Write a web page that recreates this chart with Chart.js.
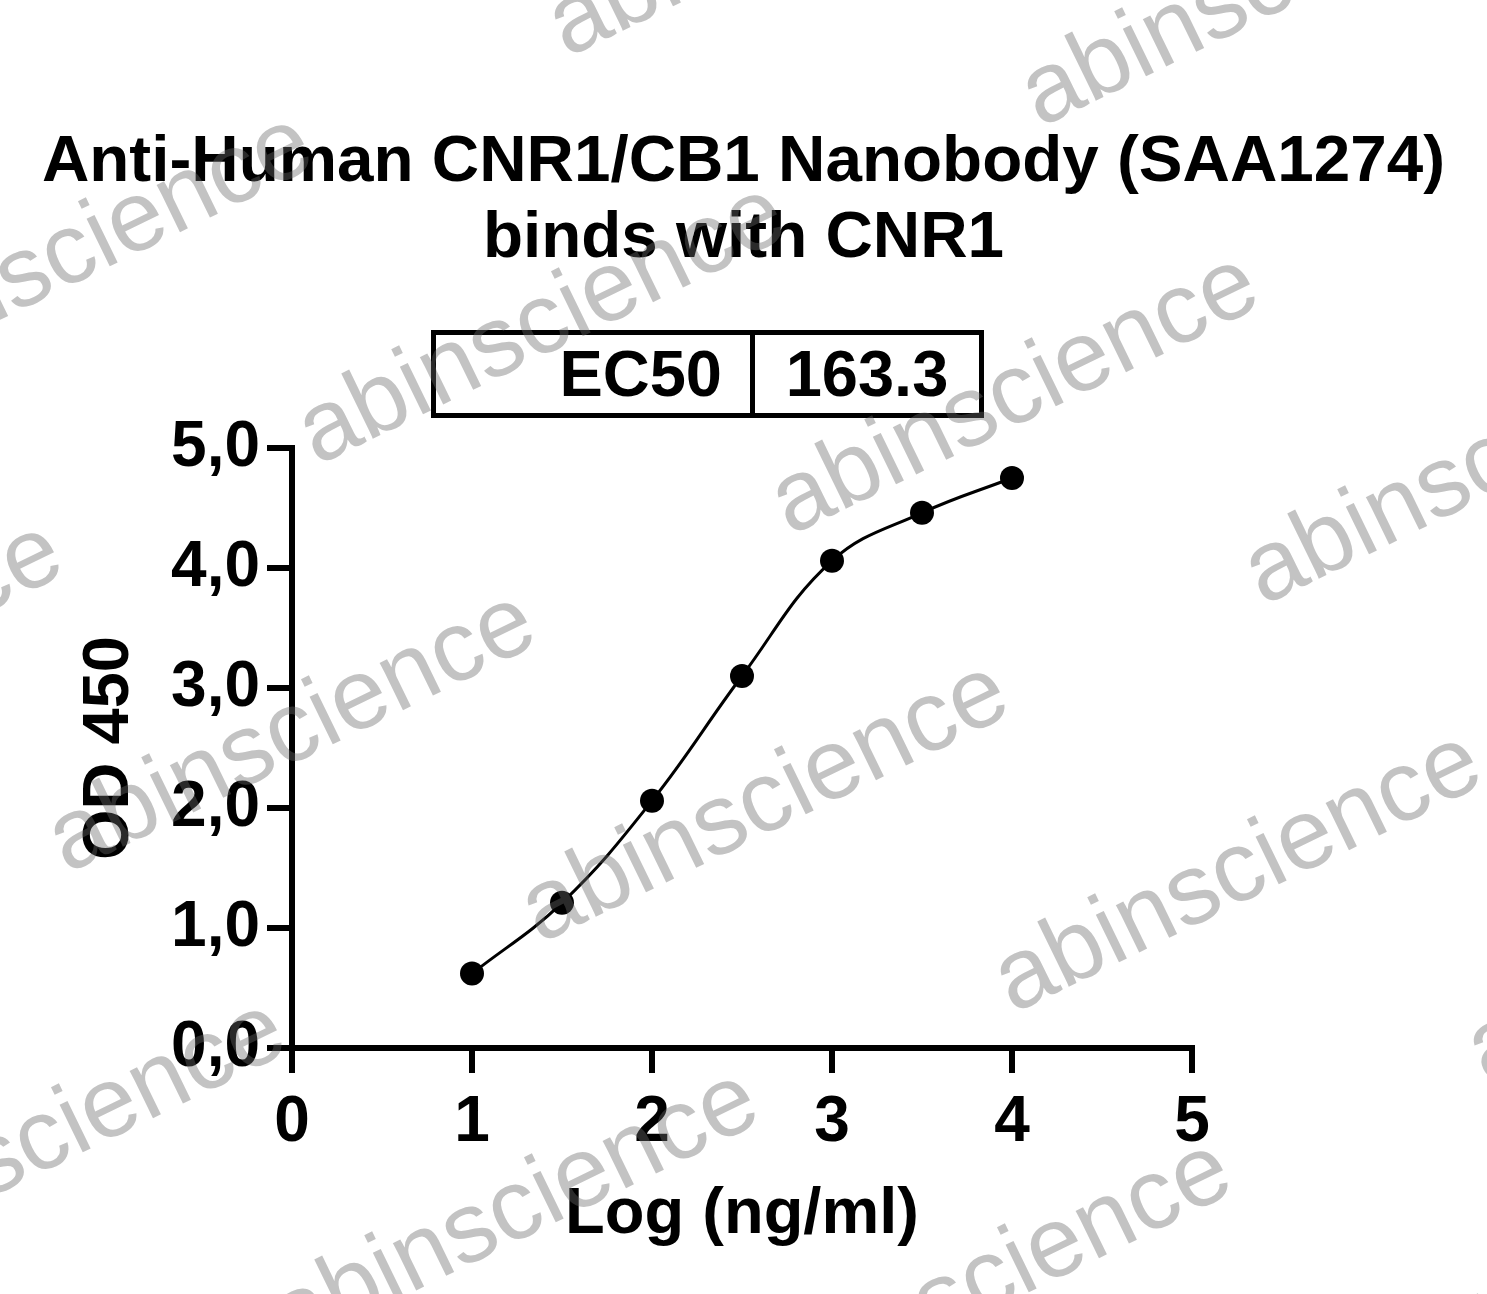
<!DOCTYPE html>
<html>
<head>
<meta charset="utf-8">
<title>Anti-Human CNR1/CB1 Nanobody (SAA1274) binds with CNR1</title>
<script src="https://cdn.jsdelivr.net/npm/chart.js@4.4.1/dist/chart.umd.min.js"></script>
<style>
    html, body { margin: 0; padding: 0; background: #fff; }
    #wrap { position: relative; width: 1487px; height: 1294px; overflow: hidden; font-family: "Liberation Sans", Arial, sans-serif; }
    .title {
        position: absolute; left: 0; top: 121px; width: 1487px;
        text-align: center; font-weight: bold; font-size: 65.6px; line-height: 76px; color: #000;
    }
    .ec50 {
        position: absolute; left: 431px; top: 330px; width: 553px; height: 88px;
        box-sizing: border-box; border: 5px solid #000; display: flex;
        font-weight: bold; font-size: 65px; line-height: 78px; color: #000;
    }
    .ec50 .lbl { width: 319px; border-right: 5px solid #000; text-align: right; padding-right: 28px; box-sizing: border-box; }
    .ec50 .val { flex: 1; text-align: center; }
    #chart { position: absolute; left: 0; top: 0; }
</style>
</head>
<body>
<div id="wrap">
    <div class="title">Anti-Human CNR1/CB1 Nanobody (SAA1274)<br>binds with CNR1</div>
    <div class="ec50"><div class="lbl">EC50</div><div class="val">163.3</div></div>
    <canvas id="chart" width="1487" height="1294"></canvas>
</div>
<script>
// Data
const logConc = [1, 1.5, 2, 2.5, 3, 3.5, 4];
const od450 = [0.62, 1.21, 2.06, 3.10, 4.06, 4.46, 4.75];
const xTickLabels = ['0', '1', '2', '3', '4', '5'];
const yTickLabels = ['0,0', '1,0', '2,0', '3,0', '4,0', '5,0'];

const points = logConc.map((x, i) => ({ x: x, y: od450[i] }));

const fontFamily = '"Liberation Sans", Arial, sans-serif';
const tickFont = { family: fontFamily, size: 64, weight: 'bold' };
const titleFont = { family: fontFamily, size: 65, weight: 'bold' };

const axisGrid = {
    display: true,
    drawOnChartArea: false,
    drawTicks: true,
    tickLength: 25,
    tickWidth: 6,
    tickColor: '#000',
    color: '#000',
    lineWidth: 6
};
const axisBorder = { display: true, color: '#000', width: 6 };

// Grey "abinscience" watermark drawn over everything
const watermark = {
    id: 'watermark',
    afterDraw(chart) {
        const ctx = chart.ctx;
        ctx.save();
        ctx.font = '100px ' + fontFamily;
        ctx.fillStyle = 'rgba(105, 105, 105, 0.4)';
        ctx.textBaseline = 'alphabetic';
        for (let j = -3; j <= 2; j++) {
            for (let i = -3; i <= 3; i++) {
                const x = 540 + i * 473 - j * 250;
                const y = 944 + i * 70 + j * 408;
                ctx.save();
                ctx.translate(x, y);
                ctx.rotate(-26 * Math.PI / 180);
                ctx.fillText('abinscience', 0, 0);
                ctx.restore();
            }
        }
        ctx.restore();
    }
};

new Chart(document.getElementById('chart'), {
    type: 'line',
    data: {
        datasets: [
            {
                data: points,
                borderColor: '#000',
                borderWidth: 3,
                tension: 0.4,
                pointRadius: 0,
                fill: false,
                order: 2
            },
            {
                data: points,
                showLine: false,
                pointRadius: 12,
                pointBackgroundColor: '#000',
                pointBorderColor: '#000',
                pointBorderWidth: 0,
                order: 1
            }
        ]
    },
    options: {
        responsive: false,
        animation: false,
        events: [],
        layout: { autoPadding: false, padding: { top: 448, right: 295, bottom: 0, left: 0 } },
        plugins: {
            legend: { display: false },
            tooltip: { enabled: false }
        },
        scales: {
            x: {
                type: 'linear',
                min: 0,
                max: 5,
                grid: axisGrid,
                border: axisBorder,
                ticks: {
                    stepSize: 1,
                    autoSkip: false,
                    maxRotation: 0,
                    padding: 12,
                    color: '#000',
                    font: tickFont,
                    callback: (v, i) => xTickLabels[i]
                },
                title: {
                    display: true,
                    text: 'Log (ng/ml)',
                    color: '#000',
                    font: titleFont,
                    padding: { top: 0, bottom: 40 }
                },
                afterFit: (s) => { s.height = 246; }
            },
            y: {
                type: 'linear',
                min: 0,
                max: 5,
                grid: axisGrid,
                border: axisBorder,
                ticks: {
                    stepSize: 1,
                    autoSkip: false,
                    padding: 7,
                    color: '#000',
                    font: tickFont,
                    callback: (v, i) => yTickLabels[i]
                },
                title: {
                    display: true,
                    text: 'OD 450',
                    color: '#000',
                    font: titleFont,
                    padding: { top: 71, bottom: 0 }
                },
                afterFit: (s) => { s.width = 292; }
            }
        }
    },
    plugins: [watermark]
});
</script>
</body>
</html>
